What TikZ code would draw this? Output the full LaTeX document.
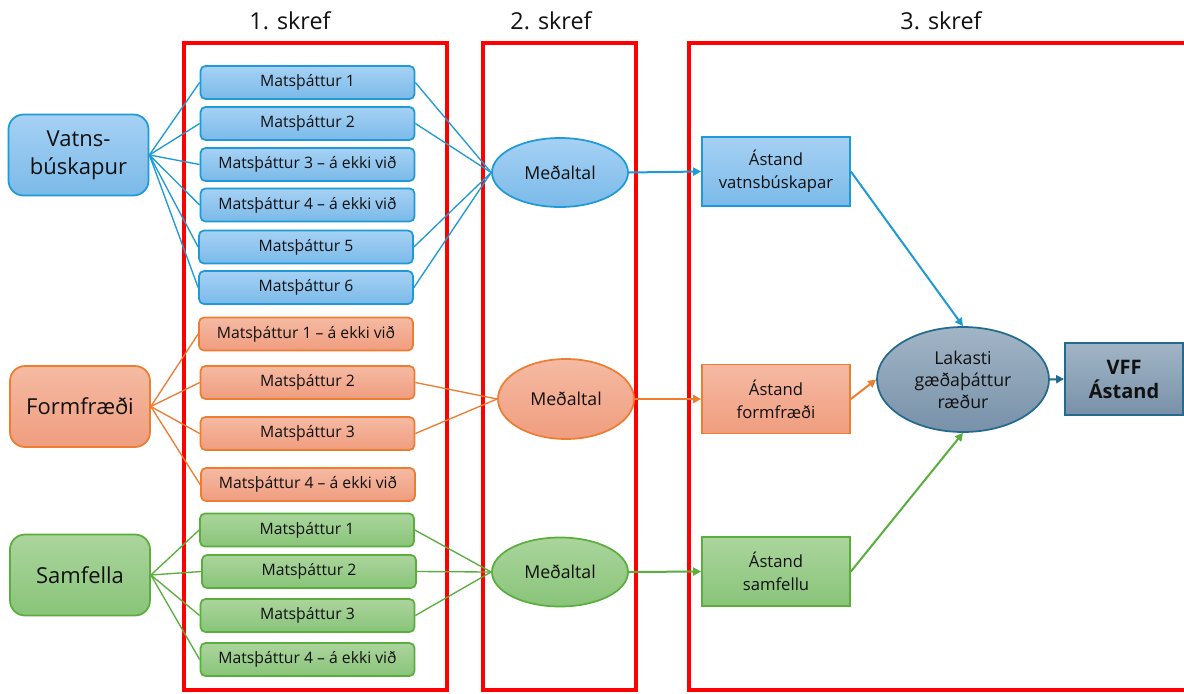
\documentclass[tikz,border=0pt]{standalone}
\usepackage{fontspec}
\setmainfont{Open Sans}
\usetikzlibrary{arrows.meta}
\newdimen\pxu \pxu=0.75pt
\definecolor{bluetop}{HTML}{A6D1F4}
\definecolor{bluebot}{HTML}{7BBAE9}
\definecolor{blueln}{HTML}{1E9AD6}
\definecolor{ortop}{HTML}{F5BAA3}
\definecolor{orbot}{HTML}{F09D7F}
\definecolor{orln}{HTML}{ED7D31}
\definecolor{grtop}{HTML}{ABD59D}
\definecolor{grbot}{HTML}{89C479}
\definecolor{grln}{HTML}{5AAE3E}
\definecolor{gytop}{HTML}{A2B5C6}
\definecolor{gybot}{HTML}{7891A9}
\definecolor{gyln}{HTML}{236A8E}
\definecolor{txt}{HTML}{111111}
\tikzset{
  base/.style={draw, line width=1.3pt, text=txt, align=center, inner sep=0pt},
  bluef/.style={draw=blueln, top color=bluetop, bottom color=bluebot},
  orf/.style={draw=orln, top color=ortop, bottom color=orbot},
  grf/.style={draw=grln, top color=grtop, bottom color=grbot},
  gyf/.style={draw=gyln, top color=gytop, bottom color=gybot},
  mbox/.style={base, rounded corners=5\pxu, minimum width=214\pxu, minimum height=33\pxu, font=\fontsize{11.8}{13}\selectfont},
  bigbox/.style={base, rounded corners=15\pxu, minimum width=140\pxu, minimum height=81\pxu, font=\fontsize{16.5}{21}\selectfont},
  avg/.style={base, ellipse, minimum width=136\pxu, minimum height=69\pxu, font=\fontsize{13.3}{15}\selectfont},
  stbox/.style={base, rectangle, minimum width=148\pxu, minimum height=69\pxu, font=\fontsize{12.5}{17}\selectfont},
  redbox/.style={draw=red, line width=2.5pt},
  title/.style={text=txt, font=\fontsize{17.5}{20}\selectfont},
  bl/.style={blueln, line width=1pt},
  ol/.style={orln, line width=1pt},
  gl/.style={grln, line width=1pt},
  arr/.style={line width=1.5pt, -{Triangle[length=6pt,width=6pt]}},
}
\usetikzlibrary{shapes.geometric}
\begin{document}
\begin{tikzpicture}[x=1\pxu, y=-1\pxu]
\clip (0,0) rectangle (1184,693);
\fill[white] (0,0) rectangle (1184,693);
% red frames
\draw[redbox] (184,43) rectangle (447,690);
\draw[redbox] (483,43) rectangle (636,690);
\draw[redbox] (689,43) rectangle (1200,690);
\node[title] (t1) at (290,21) {1. skref};
\node[title] (t2) at (551,21) {2. skref};
\node[title] (t3) at (941,21) {3. skref};
% left nodes
\node[bigbox, bluef] (V) at (78.5,155) {Vatns-\\búskapur};
\node[bigbox, orf] (F) at (80,406.5) {Formfræði};
\node[bigbox, grf] (S) at (80,575) {Samfella};
% blue boxes
\node[mbox, bluef] (b1) at (307.5,82.5) {Matsþáttur 1};
\node[mbox, bluef] (b2) at (307.5,123.5) {Matsþáttur 2};
\node[mbox, bluef] (b3) at (307.5,164.5) {Matsþáttur 3 – á ekki við};
\node[mbox, bluef] (b4) at (307.5,205) {Matsþáttur 4 – á ekki við};
\node[mbox, bluef] (b5) at (306,247) {Matsþáttur 5};
\node[mbox, bluef] (b6) at (306,287.5) {Matsþáttur 6};
% orange boxes
\node[mbox, orf] (o1) at (306,334) {Matsþáttur 1 – á ekki við};
\node[mbox, orf] (o2) at (307.5,382.5) {Matsþáttur 2};
\node[mbox, orf] (o3) at (307.5,433.5) {Matsþáttur 3};
\node[mbox, orf] (o4) at (308,484.5) {Matsþáttur 4 – á ekki við};
% green boxes
\node[mbox, grf] (g1) at (307,530) {Matsþáttur 1};
\node[mbox, grf] (g2) at (309,571.5) {Matsþáttur 2};
\node[mbox, grf] (g3) at (307.5,615.5) {Matsþáttur 3};
\node[mbox, grf] (g4) at (307.5,659.5) {Matsþáttur 4 – á ekki við};
% averages
\node[avg, bluef] (mb) at (560,172.5) {Meðaltal};
\node[avg, orf, minimum height=80\pxu] (mo) at (566,399) {Meðaltal};
\node[avg, grf] (mg) at (560,572) {Meðaltal};
% states
\node[stbox, bluef] (ab) at (776,171.5) {Ástand\\vatnsbúskapar};
\node[stbox, orf] (ao) at (776,399) {Ástand\\formfræði};
\node[stbox, grf] (ag) at (776,571.5) {Ástand\\samfellu};
% final
\node[base, gyf, ellipse, minimum width=172\pxu, minimum height=105\pxu, font=\fontsize{13.3}{16.5}\selectfont] (L) at (963,379.5) {Lakasti\\gæðaþáttur\\ræður};
\node[base, gyf, rectangle, minimum width=118\pxu, minimum height=72\pxu, font=\fontsize{15}{18}\selectfont\bfseries] (VFF) at (1124,379) {VFF\\Ástand};
% connectors left
\foreach \n in {b1,b2,b3,b4,b5,b6} \draw[bl] (V.east) -- (\n.west);
\foreach \n in {o1,o2,o3,o4} \draw[ol] (F.east) -- (\n.west);
\foreach \n in {g1,g2,g3,g4} \draw[gl] (S.east) -- (\n.west);
% to averages
\foreach \n in {b1,b2,b5,b6} \draw[bl] (\n.east) -- (mb.west);
\foreach \n in {o2,o3} \draw[ol] (\n.east) -- (mo.west);
\foreach \n in {g1,g2,g3} \draw[gl] (\n.east) -- (mg.west);
% arrows
\draw[arr, blueln] (mb.east) -- (ab.west);
\draw[arr, orln] (mo.east) -- (ao.west);
\draw[arr, grln] (mg.east) -- (ag.west);
\draw[arr, blueln] (ab.east) -- (L.north);
\draw[arr, orln] (ao.east) -- (L.west);
\draw[arr, grln] (ag.east) -- (L.south);
\draw[arr, gyln] (L.east) -- (VFF.west);
\end{tikzpicture}
\end{document}
